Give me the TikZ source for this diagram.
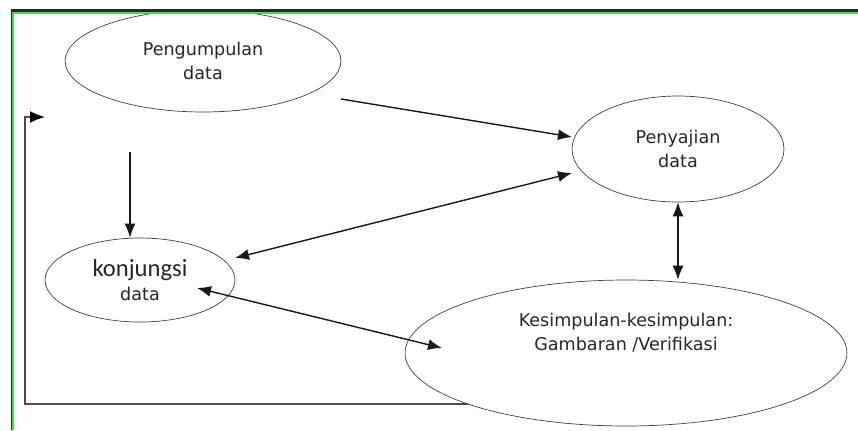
\documentclass[tikz,border=0pt]{standalone}
\usepackage{fontspec}
\setmainfont{DejaVu Sans}
\newfontfamily\konfont{Carlito}
\usetikzlibrary{arrows.meta,shapes.geometric,positioning}
\definecolor{tepihijau}{RGB}{70,225,70}
\definecolor{tepigelap}{RGB}{40,40,40}
\tikzset{
  tahap/.style = {draw=black!75, thin, ellipse, inner sep=0pt, align=center,
                  font=\fontsize{10}{13.5}\selectfont, text=black!85},
  alur/.style  = {-{Latex[length=2.8mm,width=2.2mm]}, line width=0.8pt, black!90},
  dua/.style   = {{Latex[length=2.8mm,width=2.2mm]}-{Latex[length=2.8mm,width=2.2mm]},
                  line width=0.8pt, black!90}
}

\begin{document}
\begin{tikzpicture}[x=0.02cm, y=-0.02cm]
\useasboundingbox (0,0) rectangle (858,430);

% tahap analisis
\node[tahap, minimum width=5.52cm, minimum height=2.04cm] (pengumpulan) at (203,61) {Pengumpulan\\data};
\node[tahap, minimum width=4.24cm, minimum height=2.12cm] (penyajian) at (678,149) {Penyajian\\data};
\node[tahap, minimum width=3.8cm, minimum height=1.68cm] (konjungsi) at (140,280)
  {{\konfont\fontsize{14}{15}\selectfont konjungsi}\\data};
\node[tahap, minimum width=8.84cm, minimum height=2.92cm, text depth=0.85cm] (kesimpulan) at (626,353)
  {Kesimpulan-kesimpulan:\\Gambaran /Verifikasi};

% titik bebas
\coordinate (awal) at (130,152);
\coordinate (sudut) at (25,405);
\coordinate (balik) at (45,117);

% alur
\draw[alur] ([shift={(138,38)}]pengumpulan.center) -- ([shift={(-106,-12)}]penyajian.center);
\draw[alur] (awal) -- (awal |- konjungsi.north);
\draw[dua] ([shift={(95,-22)}]konjungsi.center) -- ([shift={(-106,24)}]penyajian.center);
\draw[dua] ([shift={(57,8)}]konjungsi.center) -- ([shift={(-184,-5)}]kesimpulan.center);
\draw[dua, line width=0.6pt] (penyajian.south) -- (penyajian.south |- kesimpulan.north);
\draw[-{Latex[length=3mm,width=2.4mm,color=black]}, black!70, line width=1pt]
  (kesimpulan.198) -- (kesimpulan.198 -| sudut) |- (balik);

% bingkai
\draw[tepihijau, line width=1.2pt] (12.8,430) -- (12.8,13) -- (858,13);
\draw[tepigelap, line width=1.7pt] (11,10.5) -- (858,10.5);
\draw[tepigelap, line width=0.5pt] (11.3,10) -- (11.3,430);
\end{tikzpicture}
\end{document}
